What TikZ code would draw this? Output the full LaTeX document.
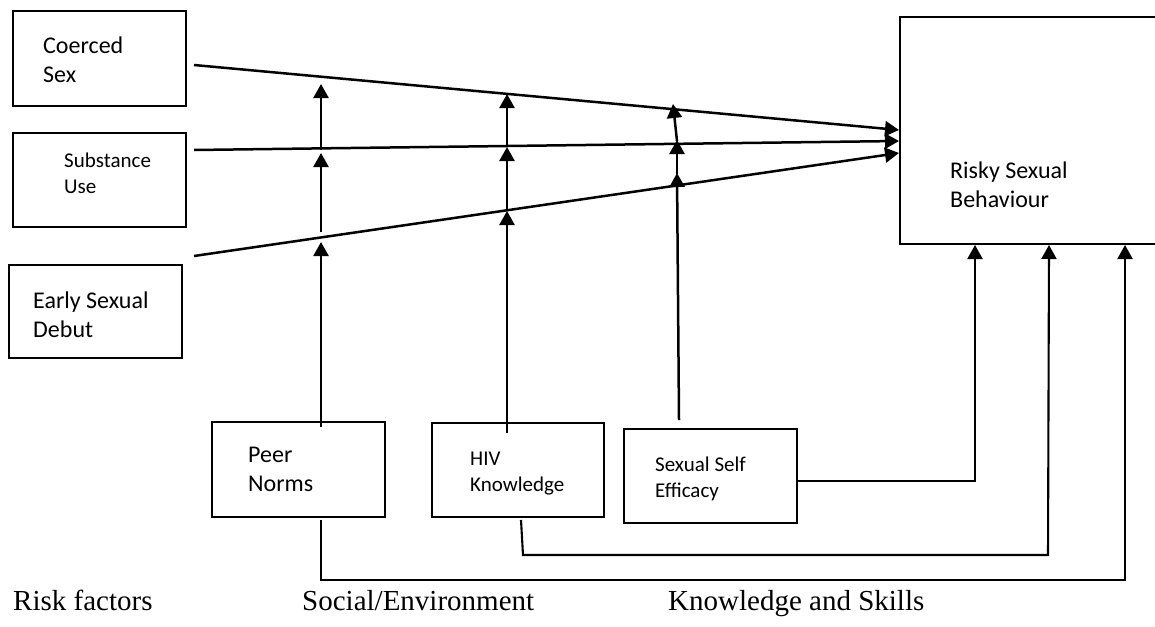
\documentclass[tikz,border=0pt]{standalone}
\usepackage{fontspec}
\setmainfont{Liberation Serif}
\newfontfamily\calibri{Carlito}
\usetikzlibrary{arrows.meta}
\begin{document}
\begin{tikzpicture}[x=1pt,y=-1pt,
  box/.style={draw, line width=2pt, rectangle, inner sep=0pt},
  lbl/.style={anchor=base west, inner sep=0pt, align=left, font=\calibri\fontsize{24}{28.5}\selectfont},
  lbls/.style={anchor=base west, inner sep=0pt, align=left, font=\calibri\fontsize{21}{26}\selectfont},
  captxt/.style={anchor=base west, inner sep=0pt, font=\fontsize{29}{34}\selectfont},
  arr/.style={line width=2.5pt, -{Triangle[length=14pt,width=15pt]}},
  arrb/.style={line width=2.1pt, -{Triangle[length=14pt,width=15pt]}},
]
\useasboundingbox (0,0) rectangle (1155,626);

% boxes
\node[box, minimum width=173pt, minimum height=95pt] (coerced) at (99.5,58.5) {};
\node[box, minimum width=173pt, minimum height=94pt] (substance) at (99.5,180) {};
\node[box, minimum width=173pt, minimum height=93pt] (early) at (95.5,311.5) {};
\node[box, minimum width=258pt, minimum height=227pt] (risky) at (1029,130.5) {};
\node[box, minimum width=173pt, minimum height=95pt] (peer) at (298.5,469.5) {};
\node[box, minimum width=172pt, minimum height=94pt] (hiv) at (518,470) {};
\node[box, minimum width=173pt, minimum height=94pt] (sse) at (710.5,476) {};

% texts (anchored at the baseline of the last line)
\node[lbl] (tcoerced) at (43,82) {Coerced\\Sex};
\node[lbls] (tsubstance) at (64,193) {Substance\\Use};
\node[lbl] (tearly) at (33,337) {Early Sexual\\Debut};
\node[lbl] (tpeer) at (248,491) {Peer\\Norms};
\node[lbls] (thiv) at (470,491) {HIV\\Knowledge};
\node[lbls] (tsse) at (655,497) {Sexual Self\\Efficacy};
\node[lbl] (trisky) at (950,207) {Risky Sexual\\Behaviour};

\node[captxt] (crisk) at (13,610) {Risk factors};
\node[captxt] (csocial) at (302,610) {Social/Environment};
\node[captxt] (cknow) at (668,610) {Knowledge and Skills};

% line start / end coordinates
\coordinate (c0) at (194,65);
\coordinate (c1) at (risky.west |- 0,130);
\coordinate (s0) at (194,150);
\coordinate (s1) at (risky.west |- 0,141);
\coordinate (e0) at (194,256);
\coordinate (e1) at (risky.west |- 0,153);

\draw[arr] (c0) -- (c1);
\draw[arr] (s0) -- (s1);
\draw[arr] (e0) -- (e1);

% peer norms column
\draw[arr] (321,427) -- (321,242);
\draw[arr] (321,232) -- (321,153);
\draw[arr] (321,150) -- (321,84);

% HIV column
\draw[arr] (507,433) -- (507,211);
\draw[arr] (507,210) -- (507,147);
\draw[arr] (507,146) -- (507,94);

% sexual self efficacy column
\draw[arr] (679,420) -- (677,173);
\draw[arr] (677,174) -- (677,140);
\draw[arr] (677,141) -- (673,104);

% bottom connectors to risky behaviour
\draw[arrb] (sse.east |- 0,481) -- (975,481) -- (risky.south -| 975,0);
\draw[arrb] (521,520) -- (523,555) -- (1048,555) -- (risky.south -| 1049,0);
\draw[arrb] (321,520) -- (321,580) -- (1125,580) -- (risky.south -| 1125,0);
\end{tikzpicture}
\end{document}
